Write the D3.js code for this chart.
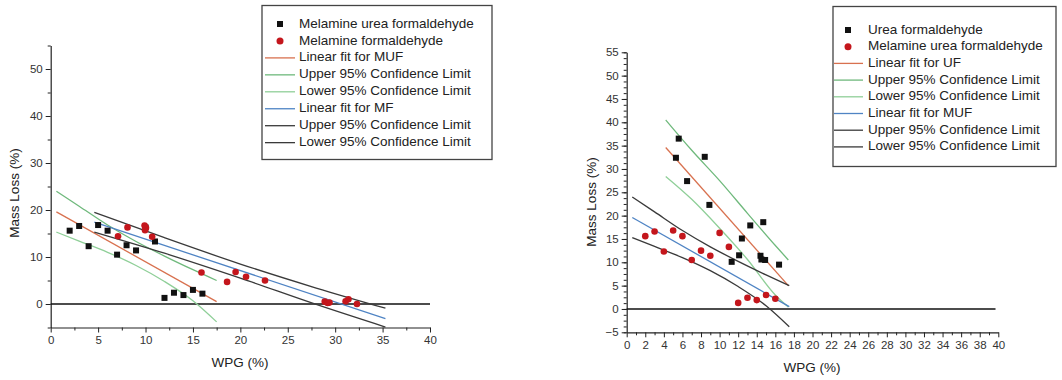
<!DOCTYPE html>
<html>
<head>
<meta charset="utf-8">
<script src="https://cdn.jsdelivr.net/npm/d3@7"></script>
<style>
  html, body { margin: 0; padding: 0; background: #fff; }
  svg { display: block; font-family: "Liberation Sans", Arial, sans-serif; }
</style>
</head>
<body>
<svg id="chart" width="1062" height="380"></svg>
<script>
// ---- Data: WPG (%) vs mass loss (%) ----
// Melamine urea formaldehyde (MUF) samples
const mufPoints = [[2,15.6],[3,16.6],[4,12.3],[5,16.8],[6,15.6],[7,10.5],[8,12.5],[9,11.4],
  [10,16.3],[11,13.3],[12,1.3],[13,2.4],[14,1.9],[15,3.0],[16,2.2]];
// Melamine formaldehyde (MF) samples
const mfPoints = [[7.1,14.4],[8.1,16.3],[9.9,16.7],[10.05,16.2],[9.95,15.7],[10.7,14.3],[15.9,6.7],
  [18.6,4.7],[19.5,6.8],[20.6,5.8],[22.6,5.0],[28.9,0.5],[29.2,0.2],[29.4,0.3],[31.1,0.6],
  [31.4,1.0],[32.3,0.0]];
// Urea formaldehyde (UF) samples
const ufPoints = [[5.3,32.4],[5.6,36.5],[6.5,27.4],[8.4,32.6],[8.9,22.3],[11.3,10.1],[12.1,11.5],
  [12.4,15.1],[13.3,17.9],[14.4,11.4],[14.5,10.6],[14.7,18.6],[14.9,10.5],[16.4,9.5]];

// Fitted lines and 95% confidence limits
const mufFit   = [[0.6,19.6],[17.5,0.5]];
const mufUpper = [[0.6,24.0],[3,20.8],[6,16.8],[9,13.3],[12,10.2],[15,7.3],[17.5,5.0]];
const mufLower = [[0.6,15.3],[3,13.4],[6,11.0],[9,8.2],[12,4.8],[15,0.7],[17.5,-3.8]];
const mfFit    = [[4.6,17.4],[35.3,-3.1]];
const mfUpper  = [[4.6,19.5],[12,14.1],[20,8.5],[28,3.4],[35.3,-0.9]];
const mfLower  = [[4.6,15.3],[12,10.8],[20,5.5],[28,-0.1],[35.3,-4.9]];
const ufFit    = [[4.2,34.6],[17.4,5.0]];
const ufUpper  = [[4.2,40.5],[7,34.0],[10,27.5],[13,20.5],[16,13.6],[17.4,10.5]];
const ufLower  = [[4.2,28.4],[7,23.5],[10,17.3],[13,10.6],[16,3.0],[17.4,0.4]];

// Axis ticks
const leftXTicks  = [0,5,10,15,20,25,30,35,40];
const leftYTicks  = [0,10,20,30,40,50];
const rightXTicks = d3.range(0, 41, 2);
const rightYTicks = [-5,0,5,10,15,20,25,30,35,40,45,50,55];

// Legend labels
const leftLegend  = ["Melamine urea formaldehyde","Melamine formaldehyde","Linear fit for MUF",
  "Upper 95% Confidence Limit","Lower 95% Confidence Limit","Linear fit for MF",
  "Upper 95% Confidence Limit","Lower 95% Confidence Limit"];
const rightLegend = ["Urea formaldehyde","Melamine urea formaldehyde","Linear fit for UF",
  "Upper 95% Confidence Limit","Lower 95% Confidence Limit","Linear fit for MUF",
  "Upper 95% Confidence Limit","Lower 95% Confidence Limit"];

// ---- Styles ----
const C = {
  square: "#111", circle: "#c4161c",
  fitRed: "#d8714f", greenUp: "#6fb97c", greenLo: "#8fcf98",
  blue: "#4f84c4", dark: "#3a3a3a", axis: "#222", text: "#333"
};

const svg = d3.select("#chart");

function drawPanel(cfg) {
  const g = svg.append("g");
  const x = cfg.x, y = cfg.y;
  const y0 = y.range()[0];
  const x0 = x.range()[0];

  // minor ticks
  g.append("g").attr("transform", `translate(0,${y0})`)
    .call(d3.axisBottom(x).tickValues(cfg.xMinor).tickSize(3).tickFormat(""))
    .call(a => a.select(".domain").remove());
  g.append("g").attr("transform", `translate(${x0},0)`)
    .call(d3.axisLeft(y).tickValues(cfg.yMinor).tickSize(3).tickFormat(""))
    .call(a => a.select(".domain").remove());

  // major axes
  const ax = g.append("g").attr("transform", `translate(0,${y0})`)
    .call(d3.axisBottom(x).tickValues(cfg.xTicks).tickSize(5).tickSizeOuter(0).tickPadding(cfg.xPad));
  const ay = g.append("g").attr("transform", `translate(${x0},0)`)
    .call(d3.axisLeft(y).tickValues(cfg.yTicks).tickSize(5).tickSizeOuter(0).tickPadding(3));
  [ax, ay].forEach(a => {
    a.selectAll("text").attr("font-size", 11.5).attr("fill", C.text)
      .attr("font-family", "'Liberation Sans', Arial, sans-serif");
    a.select(".domain").attr("stroke", C.axis).attr("stroke-width", 1.2);
  });
  g.selectAll(".tick line").attr("stroke", C.axis);

  // zero reference line
  g.append("line")
    .attr("x1", x(0)).attr("x2", x(cfg.zeroEnd))
    .attr("y1", y(0)).attr("y2", y(0))
    .attr("stroke", "#111").attr("stroke-width", 1.5);

  // fit lines and bands
  const line = d3.line().x(d => x(d[0])).y(d => y(d[1])).curve(d3.curveMonotoneX);
  cfg.lines.forEach(l => {
    g.append("path").attr("d", line(l.data))
      .attr("fill", "none").attr("stroke", l.color).attr("stroke-width", 1.3);
  });

  // points
  cfg.points.forEach(p => {
    if (p.shape === "square") {
      g.append("g").selectAll("rect").data(p.data).join("rect")
        .attr("x", d => x(d[0]) - 3).attr("y", d => y(d[1]) - 3)
        .attr("width", 6).attr("height", 6).attr("fill", C.square);
    } else {
      g.append("g").selectAll("circle").data(p.data).join("circle")
        .attr("cx", d => x(d[0])).attr("cy", d => y(d[1]))
        .attr("r", 3.3).attr("fill", C.circle);
    }
  });

  // axis titles
  g.append("text").attr("x", cfg.xTitle[0]).attr("y", cfg.xTitle[1])
    .attr("text-anchor", "middle").attr("font-size", 13.5).attr("fill", "#222").text("WPG (%)");
  g.append("text")
    .attr("transform", `translate(${cfg.yTitle[0]},${cfg.yTitle[1]}) rotate(-90)`)
    .attr("text-anchor", "middle").attr("dominant-baseline", "middle")
    .attr("font-size", 13.5).attr("fill", "#222").text("Mass Loss (%)");

  // legend
  const L = cfg.legend;
  g.append("rect").attr("x", L.x).attr("y", L.y).attr("width", L.w).attr("height", L.h)
    .attr("fill", "#fff").attr("stroke", "#444").attr("stroke-width", 1.3);
  L.labels.forEach((lab, i) => {
    const cy = L.rowY + i * L.step;
    const it = L.items[i];
    if (it.shape === "square") {
      g.append("rect").attr("x", L.symX - 3).attr("y", cy - 3).attr("width", 6).attr("height", 6)
        .attr("fill", C.square);
    } else if (it.shape === "circle") {
      g.append("circle").attr("cx", L.symX).attr("cy", cy).attr("r", 3.5).attr("fill", C.circle);
    } else {
      g.append("line").attr("x1", L.lineX1).attr("x2", L.lineX2).attr("y1", cy).attr("y2", cy)
        .attr("stroke", it.color).attr("stroke-width", 1.3);
    }
    g.append("text").attr("x", L.textX).attr("y", cy).attr("dominant-baseline", "middle")
      .attr("font-size", 13.5).attr("fill", "#222").text(lab);
  });
}

const legendItems = [
  {shape: "square"}, {shape: "circle"}, {color: C.fitRed}, {color: C.greenUp},
  {color: C.greenLo}, {color: C.blue}, {color: C.dark}, {color: C.dark}
];

// Left panel: MUF vs MF
drawPanel({
  x: d3.scaleLinear([0, 40], [50.7, 430]),
  y: d3.scaleLinear([-5, 55], [327.5, 45.5]),
  xTicks: leftXTicks, yTicks: leftYTicks,
  xMinor: d3.range(2.5, 40, 5), yMinor: d3.range(-5, 56, 10),
  xPad: 3, zeroEnd: 40,
  lines: [
    {data: mufFit, color: C.fitRed}, {data: mufUpper, color: C.greenUp},
    {data: mufLower, color: C.greenLo}, {data: mfFit, color: C.blue},
    {data: mfUpper, color: C.dark}, {data: mfLower, color: C.dark}
  ],
  points: [{shape: "square", data: mufPoints}, {shape: "circle", data: mfPoints}],
  xTitle: [240, 367], yTitle: [15, 193],
  legend: {x: 262, y: 5.5, w: 230, h: 154, rowY: 24, step: 16.95,
    symX: 280, lineX1: 265, lineX2: 295, textX: 299, labels: leftLegend, items: legendItems}
});

// Right panel: UF vs MUF
drawPanel({
  x: d3.scaleLinear([0, 40], [626.7, 998.3]),
  y: d3.scaleLinear([-5, 55], [332.3, 52.3]),
  xTicks: rightXTicks, yTicks: rightYTicks,
  xMinor: d3.range(1, 40, 2), yMinor: d3.range(-5, 55.01, 1.25),
  xPad: 4, zeroEnd: 39.7,
  lines: [
    {data: ufFit, color: C.fitRed}, {data: ufUpper, color: C.greenUp},
    {data: ufLower, color: C.greenLo}, {data: mufFit, color: C.blue},
    {data: mufUpper, color: C.dark}, {data: mufLower, color: C.dark}
  ],
  points: [{shape: "square", data: ufPoints}, {shape: "circle", data: mufPoints}],
  xTitle: [812, 372], yTitle: [592, 202],
  legend: {x: 833, y: 6.5, w: 223, h: 160, rowY: 30, step: 16.7,
    symX: 848, lineX1: 834, lineX2: 863, textX: 868, labels: rightLegend, items: legendItems}
});
</script>
</body>
</html>
